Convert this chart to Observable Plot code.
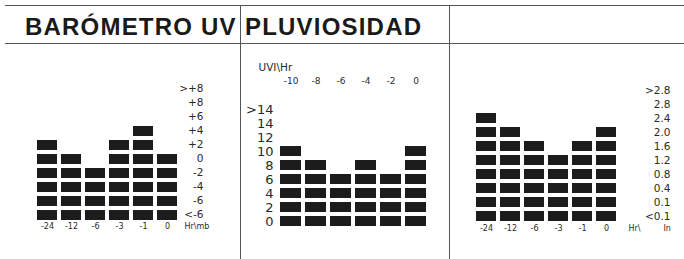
<!DOCTYPE html>
<html>
<head>
<meta charset="utf-8">
<script src="https://cdn.jsdelivr.net/npm/d3@7"></script>
<script src="https://cdn.jsdelivr.net/npm/@observablehq/plot@0.6"></script>
<style>
  html, body { margin: 0; padding: 0; background: #fff; }
  #wrap { position: relative; width: 684px; height: 259px; overflow: hidden; background: #fff; }
  #wrap svg { position: absolute; left: 0; top: 0; }
  .hline { position: absolute; left: 5px; right: 0; height: 0; border-top: 1.6px solid #555; }
  .vline { position: absolute; top: 6px; bottom: 0; width: 0; border-left: 1.6px solid #555; }
  .title { position: absolute; top: 15px; font-family: "Liberation Sans", Arial, sans-serif; font-weight: bold;
           font-size: 24px; letter-spacing: 1.2px; color: #1a1a1a; line-height: 24px; white-space: nowrap; }
</style>
</head>
<body>
<div id="wrap">
  <div class="hline" style="top:5px"></div>
  <div class="hline" style="top:43px"></div>
  <div class="vline" style="left:240px"></div>
  <div class="vline" style="left:449px"></div>
  <div class="title" style="left:25px">BARÓMETRO UV</div>
  <div class="title" style="left:245px">PLUVIOSIDAD</div>
</div>
<script>
// ---- Data ----
const baroCols = ["-24", "-12", "-6", "-3", "-1", "0"];
const baroLevels = ["<-6", "-6", "-4", "-2", "0", "+2", "+4", "+6", "+8", ">+8"]; // bottom to top
const baroValues = ["+2", "0", "-2", "+2", "+4", "0"];
const baroUnit = "Hr\\mb";

const uvCols = ["-10", "-8", "-6", "-4", "-2", "0"];
const uvLevels = ["0", "2", "4", "6", "8", "10", "12", "14", ">14"]; // bottom to top
const uvValues = ["10", "8", "6", "8", "6", "10"];
const uvUnit = "UVI\\Hr";

const rainCols = ["-24", "-12", "-6", "-3", "-1", "0"];
const rainLevels = ["<0.1", "0.1", "0.4", "0.8", "1.2", "1.6", "2.0", "2.4", "2.8", ">2.8"]; // bottom to top
const rainValues = ["2.4", "2.0", "1.6", "1.2", "1.6", "2.0"];
const rainUnitTime = "Hr\\";
const rainUnitLen = "In";

// build segment table: every level from the bottom up to the value
function segments(cols, levels, values) {
  const out = [];
  cols.forEach((c, i) => {
    const top = levels.indexOf(values[i]);
    for (let k = 0; k <= top; k++) out.push({col: c, level: levels[k]});
  });
  return out;
}

const FONT = "DejaVu Sans, sans-serif";
const SEG = "#1c1c1c";
const INK = "#2a2a2a";
const W = 684, H = 259;
const wrap = document.getElementById("wrap");

// ---- Panel 1: barometer ----
wrap.appendChild(Plot.plot({
  width: W, height: H,
  marginLeft: 37, marginRight: W - 177, marginTop: 84, marginBottom: H - 220,
  style: {background: "transparent", fontFamily: FONT},
  x: {type: "band", domain: baroCols, paddingInner: 0.17, paddingOuter: 0, axis: null},
  y: {type: "band", domain: baroLevels.slice().reverse(), paddingInner: 0.29, paddingOuter: 0, axis: null},
  marks: [
    Plot.cell(segments(baroCols, baroLevels, baroValues), {x: "col", y: "level", fill: SEG, inset: 0}),
    Plot.text(baroLevels, {y: d => d, text: d => d, frameAnchor: "right", textAnchor: "end", dx: 26, dy: -1, fontSize: 10.5, fill: INK}),
    Plot.text(baroCols, {x: d => d, text: d => d, frameAnchor: "bottom", dy: 8, fontSize: 8, fill: INK}),
    Plot.text([baroUnit], {text: d => d, frameAnchor: "bottom-right", textAnchor: "start", dx: 7, dy: 8, fontSize: 8, fill: INK})
  ]
}));

// ---- Panel 2: UV ----
wrap.appendChild(Plot.plot({
  width: W, height: H,
  marginLeft: 278, marginRight: W - 427, marginTop: 100, marginBottom: H - 229,
  style: {background: "transparent", fontFamily: FONT},
  x: {type: "band", domain: uvCols, paddingInner: 0.18, paddingOuter: 0, axis: null},
  y: {type: "band", domain: uvLevels.slice().reverse(), paddingInner: 0.29, paddingOuter: 0, axis: null},
  marks: [
    Plot.cell(segments(uvCols, uvLevels, uvValues), {x: "col", y: "level", fill: SEG, inset: 0}),
    Plot.text(uvLevels, {y: d => d, text: d => d, frameAnchor: "left", textAnchor: "end", dx: -5, fontSize: 13, fill: INK}),
    Plot.text(uvCols, {x: d => d, text: d => d, frameAnchor: "top", dy: -23, fontSize: 9, fill: INK}),
    Plot.text([uvUnit], {text: d => d, frameAnchor: "top-left", textAnchor: "start", dx: -20, dy: -37, fontSize: 10.5, fill: INK})
  ]
}));

// ---- Panel 3: rain ----
wrap.appendChild(Plot.plot({
  width: W, height: H,
  marginLeft: 475, marginRight: W - 617, marginTop: 83, marginBottom: H - 222,
  style: {background: "transparent", fontFamily: FONT},
  x: {type: "band", domain: rainCols, paddingInner: 0.16, paddingOuter: 0, axis: null},
  y: {type: "band", domain: rainLevels.slice().reverse(), paddingInner: 0.3, paddingOuter: 0, axis: null},
  marks: [
    Plot.cell(segments(rainCols, rainLevels, rainValues), {x: "col", y: "level", fill: SEG, inset: 0}),
    Plot.text(rainLevels, {y: d => d, text: d => d, frameAnchor: "right", textAnchor: "end", dx: 53, fontSize: 10.5, fill: INK}),
    Plot.text(rainCols, {x: d => d, text: d => d, frameAnchor: "bottom", dy: 8, fontSize: 8, fill: INK}),
    Plot.text([rainUnitTime], {text: d => d, frameAnchor: "bottom-right", textAnchor: "start", dx: 11, dy: 8, fontSize: 8, fill: INK}),
    Plot.text([rainUnitLen], {text: d => d, frameAnchor: "bottom-right", textAnchor: "start", dx: 46, dy: 8, fontSize: 8, fill: INK})
  ]
}));
</script>
</body>
</html>
